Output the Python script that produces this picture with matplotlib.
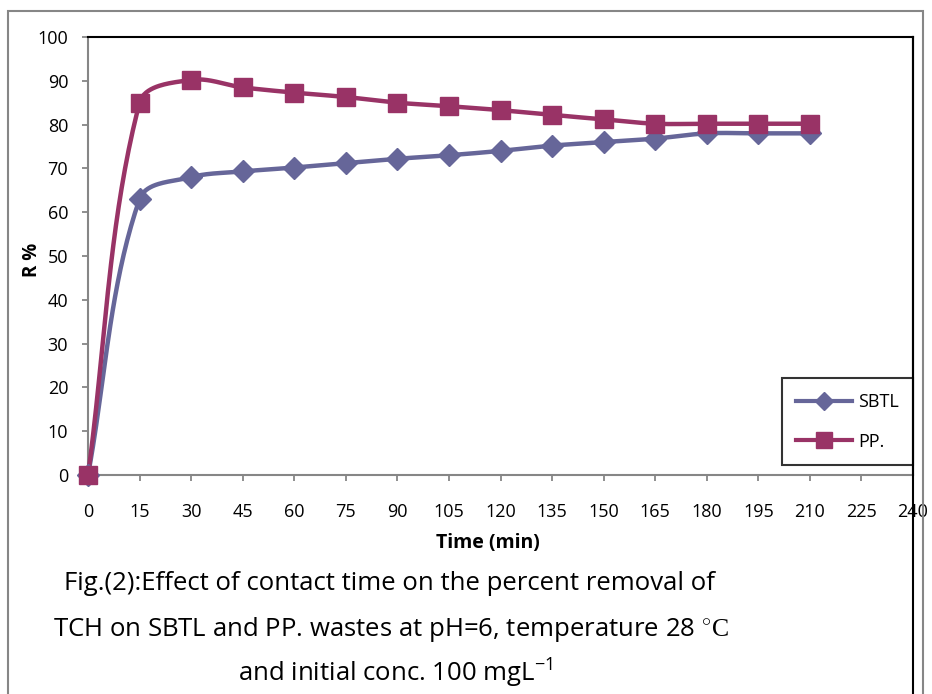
import numpy as np
import matplotlib
matplotlib.use("Agg")
import matplotlib.pyplot as plt
from matplotlib.lines import Line2D
from matplotlib.patches import Rectangle

time_min = [0, 15, 30, 45, 60, 75, 90, 105, 120, 135, 150, 165, 180, 195, 210]
sbtl = [0, 63, 68, 69.3, 70.2, 71.2, 72.2, 73, 74, 75.2, 76, 76.8, 78, 78, 78]
pp = [0, 85, 90.2, 88.5, 87.3, 86.3, 85, 84.2, 83.3, 82.2, 81.2, 80.2, 80.2, 80.2, 80.2]
x_ticks = list(range(0, 241, 15))
y_ticks = list(range(0, 101, 10))

SBTL_COLOR = "#666699"
PP_COLOR = "#993366"
GRAY = "#868686"
FONT = ["Open Sans", "DejaVu Sans"]
plt.rcParams["font.family"] = FONT
plt.rcParams["mathtext.fontset"] = "custom"
plt.rcParams["mathtext.rm"] = "Liberation Serif"
plt.rcParams["mathtext.sf"] = "Open Sans"
plt.rcParams["mathtext.it"] = "Open Sans:italic"
plt.rcParams["mathtext.bf"] = "Open Sans:bold"


def smooth_display(ax, xs, ys, n=40):
    """Excel-like smoothed connecting line, computed in display space (drawing only)."""
    P = ax.transData.transform(np.column_stack([xs, ys]).astype(float))
    m = len(P)
    dirs = []
    for i in range(m):
        if i == 0:
            d = P[1] - P[0]
        elif i == m - 1:
            d = P[-1] - P[-2]
        else:
            d = P[i + 1] - P[i - 1]
        nrm = np.hypot(*d)
        dirs.append(d / nrm if nrm > 0 else d)
    out = []
    t = np.linspace(0, 1, n)[:, None]
    for i in range(m - 1):
        p1, p2 = P[i], P[i + 1]
        L = np.hypot(*(p2 - p1)) / 3.0
        c1 = p1 + dirs[i] * L
        c2 = p2 - dirs[i + 1] * L
        seg = ((1 - t) ** 3) * p1 + 3 * ((1 - t) ** 2) * t * c1 + 3 * (1 - t) * t ** 2 * c2 + t ** 3 * p2
        out.append(seg if i == 0 else seg[1:])
    s = ax.transData.inverted().transform(np.vstack(out))
    return s[:, 0], s[:, 1]


fig = plt.figure(figsize=(9.32, 6.94), dpi=100)
W, H = 932, 694
ax = fig.add_axes([88 / W, 1 - 475 / H, (913 - 88) / W, (475 - 37) / H])
ax.set_xlim(0, 240)
ax.set_ylim(0, 100)

# outer frame
fig.patches.append(Rectangle((8 / W, -0.01), (923 - 8) / W, 1.01 - 11 / H, transform=fig.transFigure,
                             fill=False, edgecolor=GRAY, lw=1.5))
fig.lines.append(Line2D([913 / W, 913 / W], [0, 1 - 37 / H], transform=fig.transFigure,
                        color="black", lw=1.5))

sx, sy = smooth_display(ax, time_min, sbtl)
px, py = smooth_display(ax, time_min, pp)
ax.plot(sx, sy, color=SBTL_COLOR, lw=3.2, clip_on=False, zorder=3)
ax.plot(px, py, color=PP_COLOR, lw=3.2, clip_on=False, zorder=4)
ax.plot(time_min, sbtl, ls="none", marker="D", ms=11, color=SBTL_COLOR, clip_on=False, zorder=5)
ax.plot(time_min, pp, ls="none", marker="s", ms=13.5, color=PP_COLOR, clip_on=False, zorder=6)

ax.set_xticks(x_ticks)
ax.set_yticks(y_ticks)
ax.tick_params(axis="both", labelsize=13, color=GRAY, length=4.3, width=1.3)
ax.tick_params(axis="x", pad=16)
ax.tick_params(axis="y", pad=10)
for s in ["left", "bottom"]:
    ax.spines[s].set_color(GRAY)
    ax.spines[s].set_linewidth(1.5)
for s in ["top", "right"]:
    ax.spines[s].set_color("black")
    ax.spines[s].set_linewidth(1.5)

ax.set_xlabel("Time (min)", fontsize=14, fontweight="bold")
ax.xaxis.set_label_coords((488 - 88) / 825, -(533 - 475) / 438)
ax.set_ylabel("R %", fontsize=13.5, fontweight="bold")
ax.yaxis.set_label_coords((42 - 88) / 825, (475 - 260) / 438)

handles = [Line2D([], [], color=SBTL_COLOR, lw=3, marker="D", ms=9),
           Line2D([], [], color=PP_COLOR, lw=3, marker="s", ms=11)]
leg = ax.legend(handles, ["SBTL", "PP."], loc="lower right",
                bbox_to_anchor=(913 / W, 1 - 465 / H), bbox_transform=fig.transFigure,
                borderaxespad=0, frameon=True, fancybox=False, edgecolor="black", fontsize=13,
                handlelength=3.1, borderpad=0.8, labelspacing=1.2, handletextpad=0.3)
leg.get_frame().set_linewidth(1.5)

cap_kw = dict(fontsize=18.5, ha="center", va="center")
fig.text(389 / W, 1 - 583 / H, "Fig.(2):Effect of contact time on the percent removal of", **cap_kw)
fig.text(391 / W, 1 - 630 / H, r"TCH on SBTL and PP. wastes at pH=6, temperature 28 $^{\circ}\mathrm{C}$", **cap_kw)
fig.text(395 / W, 1 - 673 / H, r"and initial conc. 100 mgL$^{\mathsf{-1}}$", **cap_kw)

fig.savefig("out.png", dpi=100)
